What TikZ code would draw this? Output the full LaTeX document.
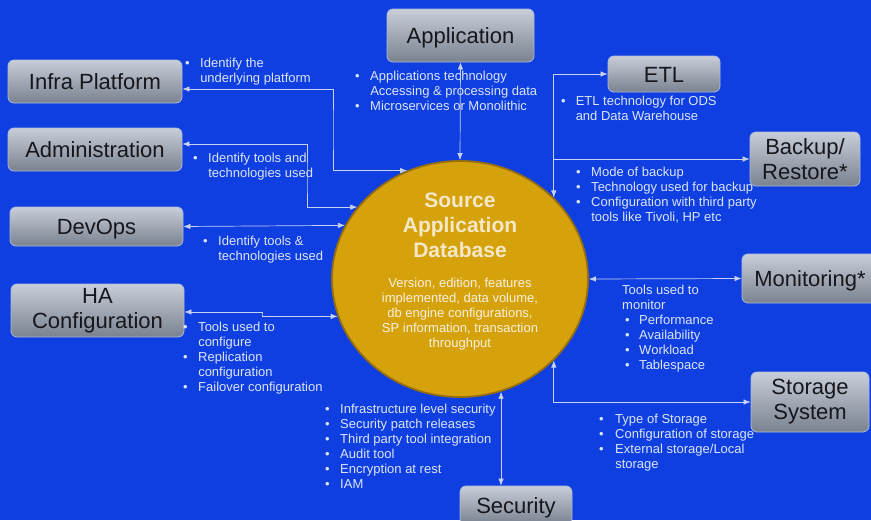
\documentclass[tikz,border=0pt]{standalone}
\usepackage{fontspec}
\setmainfont{Liberation Sans}
\usetikzlibrary{shapes.geometric, arrows.meta, calc}
\definecolor{bgblue}{RGB}{15,63,224}
\definecolor{boxtop}{RGB}{200,206,216}
\definecolor{boxbot}{RGB}{122,130,144}
\definecolor{boxedge}{RGB}{172,186,218}
\definecolor{boxtext}{RGB}{22,22,28}
\definecolor{dbgold}{RGB}{214,162,12}
\definecolor{dbrim}{RGB}{150,110,12}
\definecolor{dbtitle}{RGB}{245,232,200}
\definecolor{dbinfo}{RGB}{248,240,222}
\definecolor{wire}{RGB}{200,210,240}
\definecolor{notetext}{RGB}{220,228,250}

\begin{document}
\begin{tikzpicture}[x=1pt,y=-1pt,
box/.style={rectangle,rounded corners=6pt,draw=boxedge,line width=0.8pt,
 top color=boxtop,bottom color=boxbot,text=boxtext,align=center,inner sep=0pt,
 font=\fontsize{22}{25}\selectfont},
oneline/.style={text height=16pt,text depth=0pt},
note/.style={text=notetext,inner sep=0pt,anchor=base west,
 font=\fontsize{13}{15}\selectfont},
link/.style={draw=wire,line width=0.7pt,<->,>={Latex[length=7pt,width=5.5pt]}}]

 \useasboundingbox (0,0) rectangle (871,520);
 \fill[bgblue] (0,0) rectangle (871,520);

 % boxes round the database
 \node[box,oneline,minimum width=174pt,minimum height=43pt] (infra) at (95,81.5) {Infra Platform};
 \node[box,oneline,minimum width=174pt,minimum height=43pt] (admin) at (95,149.5) {Administration};
 \node[box,oneline,minimum width=173pt,minimum height=39pt] (devops) at (96.5,226.5) {DevOps};
 \node[box,minimum width=173pt,minimum height=53pt] (ha) at (97.5,310.5) {HA\\Configuration};
 \node[box,oneline,minimum width=147pt,minimum height=53pt] (app) at (460.5,35.5) {Application};
 \node[box,oneline,minimum width=112pt,minimum height=36pt] (etl) at (664,74) {ETL};
 \node[box,minimum width=110pt,minimum height=54pt] (backup) at (805,159) {Backup/\\Restore*};
 \node[box,oneline,minimum width=136pt,minimum height=49pt] (monitor) at (810,278.5) {Monitoring*};
 \node[box,minimum width=118pt,minimum height=60pt] (storage) at (810,402) {Storage\\System};
 \node[box,oneline,minimum width=112pt,minimum height=38pt] (security) at (516,505) {Security};

 % the database
 \node[ellipse,minimum width=256pt,minimum height=236pt,inner sep=0pt,
 fill=dbgold,draw=dbrim,line width=1.8pt] (db) at (460,279) {};
 \node[text=dbtitle,align=center,font=\fontsize{21}{25}\selectfont\bfseries]
 (dbname) at (460,225.5) {Source\\Application\\Database};
 \node[text=dbinfo,align=center,font=\fontsize{13}{15}\selectfont] (dbinfo) at (460,314)
 {Version, edition, features\\implemented, data volume,\\db engine configurations,\\SP information, transaction\\throughput};

 % notes
 \node[note] (infranote) at (185,67) {\begin{tabular}[t]{@{}l@{\hspace{10.5pt}}l@{}}
 \textbullet & Identify the\\ & underlying platform\end{tabular}};
 \node[note] (adminnote) at (193,162) {\begin{tabular}[t]{@{}l@{\hspace{10.5pt}}l@{}}
 \textbullet & Identify tools and\\ & technologies used\end{tabular}};
 \node[note] (devopsnote) at (203,245) {\begin{tabular}[t]{@{}l@{\hspace{10.5pt}}l@{}}
 \textbullet & Identify tools \&\\ & technologies used\end{tabular}};
 \node[note] (hanote) at (183,331) {\begin{tabular}[t]{@{}l@{\hspace{10.5pt}}l@{}}
 \textbullet & Tools used to\\ & configure\\ \textbullet & Replication\\ & configuration\\
 \textbullet & Failover configuration\end{tabular}};
 \node[note] (appnote) at (355,80) {\begin{tabular}[t]{@{}l@{\hspace{10.5pt}}l@{}}
 \textbullet & Applications technology\\ & Accessing \& processing data\\
 \textbullet & Microservices or Monolithic\end{tabular}};
 \node[note] (etlnote) at (561,105) {\begin{tabular}[t]{@{}l@{\hspace{10pt}}l@{}}
 \textbullet & ETL technology for ODS\\ & and Data Warehouse\end{tabular}};
 \node[note] (backupnote) at (576,176) {\begin{tabular}[t]{@{}l@{\hspace{10.5pt}}l@{}}
 \textbullet & Mode of backup\\ \textbullet & Technology used for backup\\
 \textbullet & Configuration with third party\\ & tools like Tivoli, HP etc\end{tabular}};
 \node[note] (monitornote) at (622,294) {\begin{tabular}[t]{@{}l@{}}
 Tools used to\\ monitor\\ \hspace{3pt}\textbullet\hspace{9.5pt}Performance\\
 \hspace{3pt}\textbullet\hspace{9.5pt}Availability\\ \hspace{3pt}\textbullet\hspace{9.5pt}Workload\\
 \hspace{3pt}\textbullet\hspace{9.5pt}Tablespace\end{tabular}};
 \node[note] (storagenote) at (599,423) {\begin{tabular}[t]{@{}l@{\hspace{11.5pt}}l@{}}
 \textbullet & Type of Storage\\ \textbullet & Configuration of storage\\
 \textbullet & External storage/Local\\ & storage\end{tabular}};
 \node[note] (securitynote) at (325,413) {\begin{tabular}[t]{@{}l@{\hspace{10.5pt}}l@{}}
 \textbullet & Infrastructure level security\\ \textbullet & Security patch releases\\
 \textbullet & Third party tool integration\\ \textbullet & Audit tool\\
 \textbullet & Encryption at rest\\ \textbullet & IAM\end{tabular}};

 % connectors
 \coordinate (infrajog) at (333,130);
 \coordinate (adminjog) at (307,180);
 \coordinate (hajog) at (262,314);
 \coordinate (bkjoin) at (db.41.7 |- backup.west);

 \draw[link] ([yshift=-7.5pt]infra.east) -| (infrajog) |- (db.116);
 \draw[link] ([yshift=5.5pt]admin.east) -| (adminjog) |- (db.145);
 \draw[link] (devops.east) -- (db.155.6);
 \draw[link] ([yshift=-1.5pt]ha.east) -| (hajog) |- (db.197);
 \draw[link] (app.south) -- (db.north);
 \draw[link] (db.41.7) |- (etl.west);
 \draw[link,->] (bkjoin) -- (backup.west);
 \draw[link] (db.east) -- (monitor.west);
 \draw[link] (db.-41.7) |- (storage.west);
 \draw[link] (db.-70.3) -- (db.-70.3 |- security.north);

\end{tikzpicture}
\end{document}
